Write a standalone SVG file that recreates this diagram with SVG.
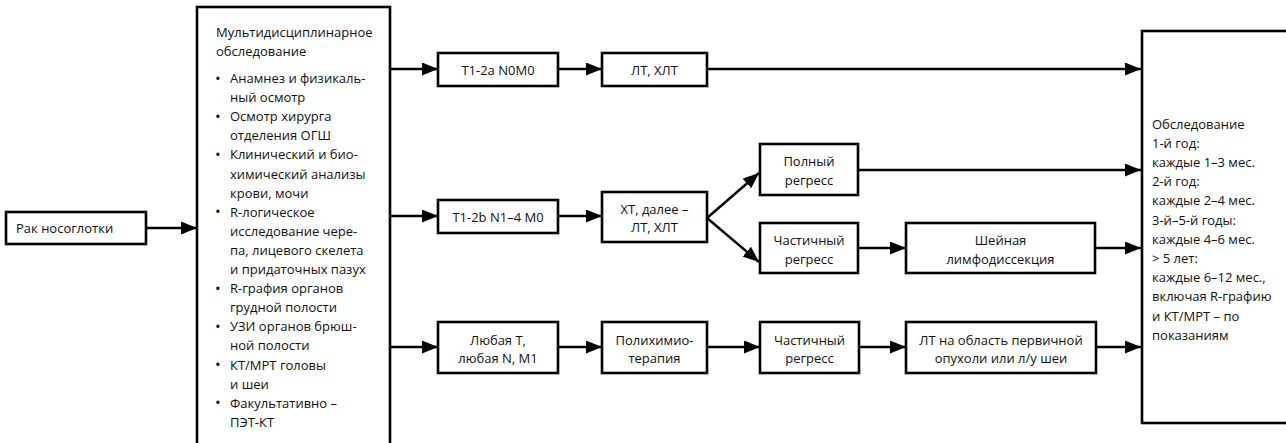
<svg xmlns="http://www.w3.org/2000/svg" width="1286" height="443" viewBox="0 0 1286 443">
  <style>
    .box { fill: #ffffff; stroke: #000000; stroke-width: 2.6; }
    .t { font-family: "Open Sans", "Noto Sans", "DejaVu Sans", sans-serif; font-size: 13px; fill: #111111; }
    .c { text-anchor: middle; }
    .dot { font-size: 15px; }
    .edge { fill: none; stroke: #000000; stroke-width: 2.4; marker-end: url(#arrow); }
  </style>
  <defs>
    <marker id="arrow" markerUnits="userSpaceOnUse" markerWidth="17" markerHeight="13" refX="16" refY="6.5" orient="auto">
      <path d="M0,0 L16,6.5 L0,13 z" fill="#000000"/>
    </marker>
  </defs>
  <rect width="1286" height="443" fill="#ffffff"/>

  <!-- connectors -->
  <g id="connectors">
    <line class="edge" x1="146" y1="228" x2="197" y2="228"/>
    <line class="edge" x1="390" y1="69" x2="438" y2="69"/>
    <line class="edge" x1="390" y1="216" x2="438" y2="216"/>
    <line class="edge" x1="390" y1="347" x2="438" y2="347"/>
    <line class="edge" x1="558" y1="69" x2="602" y2="69"/>
    <line class="edge" x1="707" y1="69" x2="1141" y2="69"/>
    <line class="edge" x1="558" y1="216" x2="602" y2="216"/>
    <line class="edge" x1="707" y1="218" x2="759" y2="173"/>
    <line class="edge" x1="707" y1="218" x2="759" y2="262"/>
    <line class="edge" x1="858" y1="170" x2="1141" y2="170"/>
    <line class="edge" x1="858" y1="248" x2="906" y2="248"/>
    <line class="edge" x1="1095" y1="248" x2="1141" y2="248"/>
    <line class="edge" x1="558" y1="347" x2="602" y2="347"/>
    <line class="edge" x1="707" y1="347" x2="760" y2="347"/>
    <line class="edge" x1="859" y1="347" x2="906" y2="347"/>
    <line class="edge" x1="1096" y1="347" x2="1141" y2="347"/>
  </g>

  <g id="cancer">
    <rect class="box" x="6" y="212" width="140" height="32"/>
    <text class="t" x="16" y="233">Рак носоглотки</text>
  </g>

  <g id="workup">
    <rect class="box" x="197" y="7" width="193" height="450"/>
    <text class="t" x="216" y="37">Мультидисциплинарное</text>
    <text class="t" x="216" y="56">обследование</text>
    <g class="t">
      <text class="dot" x="215" y="83.5">•</text>
      <text class="dot" x="215" y="121.7">•</text>
      <text class="dot" x="215" y="159.9">•</text>
      <text class="dot" x="215" y="217.2">•</text>
      <text class="dot" x="215" y="293.6">•</text>
      <text class="dot" x="215" y="331.8">•</text>
      <text class="dot" x="215" y="370">•</text>
      <text class="dot" x="215" y="408.2">•</text>
      <text x="230" y="83">Анамнез и физикаль-</text>
      <text x="230" y="102.1">ный осмотр</text>
      <text x="230" y="121.2">Осмотр хирурга</text>
      <text x="230" y="140.3">отделения ОГШ</text>
      <text x="230" y="159.4">Клинический и био-</text>
      <text x="230" y="178.5">химический анализы</text>
      <text x="230" y="197.6">крови, мочи</text>
      <text x="230" y="216.7">R-логическое</text>
      <text x="230" y="235.8">исследование чере-</text>
      <text x="230" y="254.9">па, лицевого скелета</text>
      <text x="230" y="274">и придаточных пазух</text>
      <text x="230" y="293.1">R-графия органов</text>
      <text x="230" y="312.2">грудной полости</text>
      <text x="230" y="331.3">УЗИ органов брюш-</text>
      <text x="230" y="350.4">ной полости</text>
      <text x="230" y="369.5">КТ/МРТ головы</text>
      <text x="230" y="388.6">и шеи</text>
      <text x="230" y="407.7">Факультативно –</text>
      <text x="230" y="426.8">ПЭТ-КТ</text>
    </g>
  </g>

  <!-- upper branch -->
  <g id="t12a">
    <rect class="box" x="438" y="53" width="120" height="33"/>
    <text class="t c" x="498" y="74.5">T1-2a N0M0</text>
  </g>
  <g id="rt1">
    <rect class="box" x="602" y="53" width="105" height="33"/>
    <text class="t c" x="654.5" y="74.5">ЛТ, ХЛТ</text>
  </g>

  <!-- middle branch -->
  <g id="t12b">
    <rect class="box" x="438" y="200" width="120" height="33"/>
    <text class="t c" x="498" y="221.5">T1-2b N1–4 M0</text>
  </g>
  <g id="chemo-rt">
    <rect class="box" x="602" y="192" width="105" height="50"/>
    <text class="t c" x="654.5" y="213.5">ХТ, далее –</text>
    <text class="t c" x="654.5" y="232">ЛТ, ХЛТ</text>
  </g>
  <g id="complete">
    <rect class="box" x="760" y="144" width="98" height="51"/>
    <text class="t c" x="809" y="166">Полный</text>
    <text class="t c" x="809" y="184.5">регресс</text>
  </g>
  <g id="partial1">
    <rect class="box" x="760" y="223" width="98" height="50"/>
    <text class="t c" x="809" y="245">Частичный</text>
    <text class="t c" x="809" y="263.5">регресс</text>
  </g>
  <g id="neck">
    <rect class="box" x="906" y="223" width="189" height="50"/>
    <text class="t c" x="1000.5" y="245">Шейная</text>
    <text class="t c" x="1000.5" y="263.5">лимфодиссекция</text>
  </g>

  <!-- lower branch -->
  <g id="m1">
    <rect class="box" x="438" y="322" width="120" height="51"/>
    <text class="t c" x="498" y="344.5">Любая Т,</text>
    <text class="t c" x="498" y="362.5">любая N, M1</text>
  </g>
  <g id="polychemo">
    <rect class="box" x="602" y="322" width="105" height="51"/>
    <text class="t c" x="654.5" y="344.5">Полихимио-</text>
    <text class="t c" x="654.5" y="362.5">терапия</text>
  </g>
  <g id="partial2">
    <rect class="box" x="760" y="322" width="99" height="51"/>
    <text class="t c" x="809.5" y="344.5">Частичный</text>
    <text class="t c" x="809.5" y="362.5">регресс</text>
  </g>
  <g id="local-rt">
    <rect class="box" x="906" y="322" width="190" height="51"/>
    <text class="t c" x="1001" y="344.5">ЛТ на область первичной</text>
    <text class="t c" x="1001" y="362.5">опухоли или л/у шеи</text>
  </g>

  <g id="followup">
    <rect class="box" x="1142" y="31" width="160" height="392"/>
    <g class="t">
      <text x="1152" y="128.5">Обследование</text>
      <text x="1152" y="147.7">1-й год:</text>
      <text x="1152" y="166.9">каждые 1–3 мес.</text>
      <text x="1152" y="186.1">2-й год:</text>
      <text x="1152" y="205.3">каждые 2–4 мес.</text>
      <text x="1152" y="224.5">3-й–5-й годы:</text>
      <text x="1152" y="243.7">каждые 4–6 мес.</text>
      <text x="1152" y="262.9">&gt; 5 лет:</text>
      <text x="1152" y="282.1">каждые 6–12 мес.,</text>
      <text x="1152" y="301.3">включая R-графию</text>
      <text x="1152" y="320.5">и КТ/МРТ – по</text>
      <text x="1152" y="339.7">показаниям</text>
    </g>
  </g>
</svg>
